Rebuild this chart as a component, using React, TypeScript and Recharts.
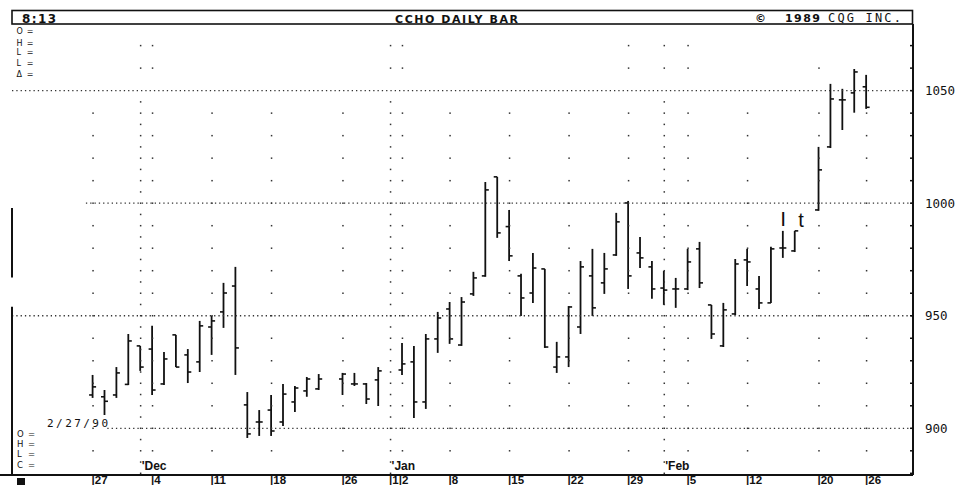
import React from 'react';
import {
  ComposedChart,
  Bar,
  Scatter,
  XAxis,
  YAxis,
  ReferenceLine,
  ReferenceDot,
} from 'recharts';

// trading-day slot (weekday index from Nov 27 1989, holidays leave empty slots)
const slots = [0, 1, 2, 3, 4, 5, 6, 7, 8, 9, 10, 11, 12, 13, 14, 15, 16, 17, 18, 19, 21, 22, 23, 24, 26, 27, 28, 29, 30, 31, 32, 33, 34, 35, 36, 37, 38, 39, 40, 41, 42, 43, 44, 45, 46, 47, 48, 49, 50, 51, 52, 53, 54, 55, 56, 57, 58, 59, 61, 62, 63, 64, 65];
const opens = [914.8, 914, 914.8, 919.5, 936.6, 935.2, 919.7, 941.5, 932.6, 929.5, 945, 951.7, 963.2, 910.4, 902.8, 908.1, 902.8, 911.7, 916.6, 917.5, 921.9, 919.7, 919.7, 921.5, 925.9, 929.5, 911.7, 939.7, 953, 937, 959.7, 967.7, 1011.7, 989.6, 967.7, 960.1, 970.8, 927.2, 931.7, 945, 967.7, 964.6, 977, 1000.1, 977.9, 971.7, 962.3, 961.9, 961.9, 979.7, 954.8, 936.6, 950.8, 974.8, 961.9, 955.7, 980.1, 978.8, 997, 1025, 1045.9, 1049, 1051.7];
const highs = [923.7, 917, 927.2, 941.9, 936.6, 945.5, 933.9, 941.5, 935.2, 947.7, 949.9, 964.6, 971.7, 916.1, 908.1, 914.8, 919.7, 918.8, 922.8, 924.1, 924.6, 924.6, 920.1, 927.2, 937.9, 936.6, 941.9, 951.7, 956.1, 958.3, 969.5, 1009.4, 1011.7, 997, 968.6, 977.9, 970.8, 938.4, 954.3, 974.3, 979.7, 977.9, 995.7, 1001, 985, 974.3, 969.9, 966.8, 979.7, 982.8, 954.8, 955.7, 975.2, 979.7, 967.7, 980.6, 987.7, 987.7, 1025, 1053, 1050.8, 1059.6, 1057];
const lows = [913.5, 905.9, 913.5, 919.2, 925.5, 914.8, 919.2, 927.2, 920.1, 925, 932.6, 944.6, 923.7, 895.7, 896.6, 896.6, 901, 907.2, 914, 917, 914.8, 918.8, 910.8, 909.9, 923.7, 904.6, 908.6, 933.5, 937.5, 936.6, 958.8, 967.3, 984.6, 974.3, 949.9, 955.7, 935.7, 924.6, 927.2, 941.9, 949.9, 959.7, 976.6, 961.9, 971.2, 957.5, 954.8, 953.5, 961.4, 962.3, 939.7, 936.1, 950.3, 963.2, 953, 955.7, 975.7, 978.3, 996.6, 1024.5, 1032.5, 1040.2, 1041.9];
const closes = [918.4, 912, 924.6, 938.8, 927.2, 917, 930.8, 927.2, 925, 945.5, 947.7, 960.1, 935.7, 897.5, 902.8, 898.8, 915.2, 917.9, 921.9, 921.9, 924.1, 919.7, 913, 925.5, 928.6, 911.7, 939.7, 949, 939.7, 956.1, 966.8, 1005.9, 986.8, 976.6, 957.9, 971.2, 936.1, 931.7, 953.9, 971.7, 953.5, 970.8, 991.7, 967.7, 975.7, 961.9, 961.4, 961.9, 973.9, 964.6, 941.9, 952.6, 973, 973.9, 955.7, 979.7, 980.1, 987.7, 1014.8, 1046.3, 1045.9, 1058.3, 1042.6];

const tickSlots = [0, 5, 10, 15, 21, 25, 30, 35, 40, 45, 50, 55, 61, 65];
const tickLabels = ['|27', '|4', '|11', '|18', '|26', '|1|2', '|8', '|15', '|22', '|29', '|5', '|12', '|20', '|26'];

const monthSlots = [4, 25, 48];
const monthLabels = ["'Dec", "'Jan", "'Feb"];

const weekCols = [0, 5, 10, 15, 21, 26, 30, 35, 40, 45, 50, 55, 61, 65];
const gridLevels = [890, 900, 910, 920, 930, 940, 950, 960, 970, 980, 990, 1000, 1010, 1020, 1030, 1040];
const topCols = [4, 5, 25, 26, 45, 48, 50];
const topLevels = [1060, 1070];

const majorLevels = [1050, 1000, 950, 900];
const majorStarts = [-6.81, -0.6, -6.81, 1.2];

const rightTicks = [880, 890, 900, 910, 920, 930, 940, 950, 960, 970, 980, 990, 1000, 1010, 1020, 1030, 1040, 1050, 1060, 1070];
const leftTicks = [1070, 1060, 990, 980, 970, 950, 900, 890];

const X_MIN = -6.81;
const X_MAX = 68.9;
const Y_MIN = 879.25;
const Y_MAX = 1079.6;

const bars = slots.map((i, k) => ({
  i,
  o: opens[k],
  h: highs[k],
  l: lows[k],
  c: closes[k],
  range: [lows[k], highs[k]],
}));

const dots: { i: number; v: number }[] = [];
weekCols.forEach((i) => gridLevels.forEach((v) => dots.push({ i, v })));
monthSlots.forEach((i) => {
  for (let v = 880; v <= 1045; v += 5) dots.push({ i, v });
});
topCols.forEach((i) => topLevels.forEach((v) => dots.push({ i, v })));
dots.push({ i: 61, v: 1060 });

const OhlcShape = (props: any) => {
  const { x, y, width, height, payload } = props;
  const cx = x + width / 2;
  const span = payload.h - payload.l || 1;
  const yOf = (v: number) => y + ((payload.h - v) / span) * height;
  return (
    <g stroke="#111">
      <line x1={cx} x2={cx} y1={y} y2={y + height} strokeWidth={1.8} />
      <line x1={cx - 3.5} x2={cx} y1={yOf(payload.o)} y2={yOf(payload.o)} strokeWidth={1.6} />
      <line x1={cx} x2={cx + 3.5} y1={yOf(payload.c)} y2={yOf(payload.c)} strokeWidth={1.6} />
    </g>
  );
};

const GridDot = (props: any) => (
  <rect x={props.cx - 0.75} y={props.cy - 0.75} width={1.5} height={1.5} fill="#333" />
);

const DateTick = (props: any) => {
  const { x, y, payload } = props;
  const k = tickSlots.indexOf(payload.value);
  return (
    <text x={x - 1.5} y={y + 9.2} fontSize={11.5} fontWeight="bold" fontFamily="Liberation Sans, Arial" fill="#111">
      {tickLabels[k]}
    </text>
  );
};

const mono = 'DejaVu Sans Mono, monospace';
const sans = 'DejaVu Sans, sans-serif';

export default function App() {
  return (
    <div style={{ position: 'absolute', left: 0, top: 0, width: 955, height: 485, background: '#fff' }}>
      <ComposedChart
        width={955}
        height={485}
        data={bars}
        margin={{ top: 24, right: 0, bottom: 0, left: 0 }}
      >
        <XAxis
          dataKey="i"
          type="number"
          domain={[X_MIN, X_MAX]}
          allowDataOverflow
          ticks={tickSlots}
          tick={<DateTick />}
          tickLine={false}
          tickSize={0}
          tickMargin={0}
          height={10}
          axisLine={{ stroke: '#111', strokeWidth: 2 }}
        />
        <YAxis
          yAxisId="l"
          orientation="left"
          width={12}
          domain={[Y_MIN, Y_MAX]}
          allowDataOverflow
          ticks={leftTicks}
          tick={false}
          tickSize={-3}
          tickLine={{ stroke: '#111', strokeWidth: 1.5 }}
          axisLine={false}
        />
        <YAxis
          yAxisId="r"
          orientation="right"
          width={42}
          domain={[Y_MIN, Y_MAX]}
          allowDataOverflow
          ticks={rightTicks}
          tickSize={-3}
          tickMargin={15}
          tickFormatter={(v: number) => (majorLevels.includes(v) ? String(v) : '')}
          tick={{ fontSize: 12.5, fontFamily: mono, fill: '#111' }}
          tickLine={{ stroke: '#111', strokeWidth: 1.5 }}
          axisLine={{ stroke: '#111', strokeWidth: 2 }}
        />
        {majorLevels.map((v, k) => (
          <ReferenceLine
            key={`h${v}`}
            yAxisId="r"
            segment={[{ x: majorStarts[k], y: v }, { x: X_MAX, y: v }]}
            stroke="#333"
            strokeWidth={1.3}
            strokeDasharray="1.3 3"
          />
        ))}
        <ReferenceLine yAxisId="r" segment={[{ x: X_MIN, y: 997.9 }, { x: X_MIN, y: 967 }]} stroke="#111" strokeWidth={2} />
        <ReferenceLine yAxisId="r" segment={[{ x: X_MIN, y: 954 }, { x: X_MIN, y: Y_MIN }]} stroke="#111" strokeWidth={2} />
        <Scatter yAxisId="r" data={dots} dataKey="v" shape={<GridDot />} isAnimationActive={false} />
        <Bar yAxisId="r" dataKey="range" barSize={7} shape={<OhlcShape />} isAnimationActive={false} />
        {monthSlots.map((i, k) => (
          <ReferenceDot
            key={`m${i}`}
            yAxisId="r"
            x={i}
            y={883.3}
            r={0}
            fill="none"
            stroke="none"
            label={{ value: monthLabels[k], position: 'right', offset: 1, fontSize: 12, fontWeight: 'bold', fontFamily: 'Liberation Sans, Arial', fill: '#111' }}
          />
        ))}
        <ReferenceDot yAxisId="r" x={58} y={993} r={0} fill="none" stroke="none" label={{ value: 'I', position: 'center', fontSize: 21, fontFamily: 'Liberation Sans, Arial', fill: '#111', stroke: 'none' }} />
        <ReferenceDot yAxisId="r" x={59.5} y={992.6} r={0} fill="none" stroke="none" label={{ value: 't', position: 'center', fontSize: 20, fontFamily: 'Liberation Sans, Arial', fill: '#111', stroke: 'none' }} />
      </ComposedChart>
      <svg width={955} height={485} style={{ position: 'absolute', left: 0, top: 0, pointerEvents: 'none' }}>
        <rect x={12} y={10.5} width={900.5} height={13.5} fill="none" stroke="#111" strokeWidth={1.6} />
        <line x1={0} x2={13} y1={475} y2={475} stroke="#111" strokeWidth={2} />
        <text x={22} y={22.5} fontSize={12} fontWeight="bold" fontFamily={sans} textLength={34} fill="#111">8:13</text>
        <text x={395} y={22.5} fontSize={11} fontWeight="bold" fontFamily={sans} textLength={123} lengthAdjust="spacing" fill="#111">CCHO DAILY BAR</text>
        <text x={755} y={21.5} fontSize={11} fontWeight="bold" fontFamily={sans} fill="#111">©</text>
        <text x={785} y={22} fontSize={11} fontWeight="bold" fontFamily={sans} textLength={35} fill="#111">1989</text>
        <text x={828} y={22} fontSize={12} fontFamily={mono} textLength={73} lengthAdjust="spacing" fill="#111">CQG INC.</text>
        {['O=', 'H=', 'L=', 'L=', 'Δ='].map((t, k) => (
          <text key={`t${k}`} x={16.5} y={[34, 46, 54.5, 66, 76.5][k]} fontSize={8} fontFamily={sans} textLength={17} fill="#111">{t}</text>
        ))}
        {['O=', 'H=', 'L=', 'C='].map((t, k) => (
          <text key={`b${k}`} x={17} y={[437, 447, 457, 467.5][k]} fontSize={8.5} fontFamily={sans} textLength={18} fill="#111">{t}</text>
        ))}
        <text x={47} y={427} fontSize={11} fontFamily={mono} textLength={61} lengthAdjust="spacing" fill="#111">2/27/90</text>
        <rect x={17} y={478} width={8} height={7} fill="#111" />
      </svg>
    </div>
  );
}
